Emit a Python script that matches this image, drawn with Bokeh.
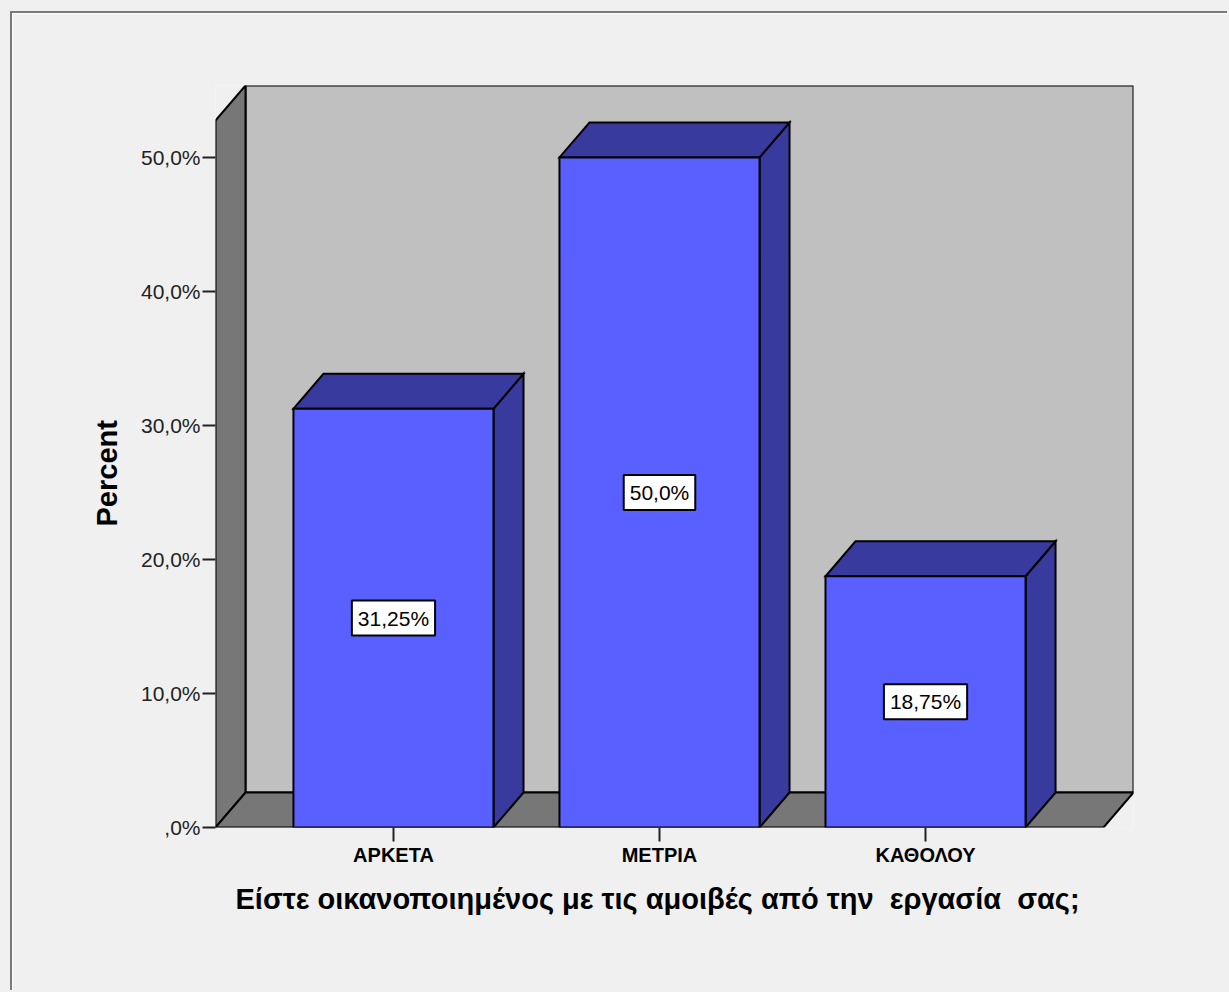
from bokeh.plotting import figure
from bokeh.models import Range1d, FixedTicker, ColumnDataSource, Title
from bokeh.core.properties import value
from bokeh.embed import file_html
from bokeh.resources import INLINE

# --- data -------------------------------------------------------------
categories = ["ΑΡΚΕΤΑ", "ΜΕΤΡΙΑ", "ΚΑΘΟΛΟΥ"]
percents = [31.25, 50.0, 18.75]
y_ticks = [0, 10, 20, 30, 40, 50]
y_tick_labels = [",0%", "10,0%", "20,0%", "30,0%", "40,0%", "50,0%"]
x_title = "Είστε οικανοποιημένος με τις αμοιβές από την  εργασία  σας;"
y_title = "Percent"

# --- 3D box geometry (data units) --------------------------------------
X_PAD = 0.669      # floor margin beyond first / last category centre
BAR_W = 0.752      # bar width in category units
WALL_TOP = 52.76   # height of the front edge of the side wall (percent)
DX = 0.1128        # depth offset along x (category units)
DY = 2.61          # depth offset along y (percent units)

FONT = "Liberation Sans"
BG = "#f0f0f0"
BAR_FRONT = "#5a60ff"
BAR_SHADE = "#383a9e"
WALL_BACK = "#c0c0c0"
WALL_SIDE = "#777777"

x0, x1 = -X_PAD, (len(categories) - 1) + X_PAD

p = figure(width=1217, height=979,
           x_range=Range1d(x0, x1 + DX), y_range=Range1d(0, WALL_TOP + DY),
           min_border_left=203, min_border_right=96,
           min_border_top=72, min_border_bottom=165,
           output_backend="svg", toolbar_location=None, tools="")
p.background_fill_color = BG
p.border_fill_color = BG
p.outline_line_color = None
p.grid.visible = False
# page frame: grey rule on the top and left, light fill around it
p.styles = {"margin-left": "10px", "margin-top": "11px",
            "border-left": "2px solid #7a7a7a",
            "border-top": "2px solid #7a7a7a",
            "box-shadow": f"0 0 0 14px {BG}"}

edge = dict(line_color="black", line_width=2, line_join="miter")

# back wall, side wall and floor
p.quad(left=x0 + DX, right=x1 + DX, bottom=DY, top=WALL_TOP + DY,
       fill_color=WALL_BACK, **edge)
p.patch([x0, x0, x0 + DX, x0 + DX], [0, WALL_TOP, WALL_TOP + DY, DY],
        fill_color=WALL_SIDE, **edge)
p.patch([x0, x1, x1 + DX, x0 + DX], [0, 0, DY, DY],
        fill_color=WALL_SIDE, **edge)

# bars: right side, top and front face
pos = list(range(len(categories)))
lefts = [c - BAR_W / 2 for c in pos]
rights = [c + BAR_W / 2 for c in pos]
side_xs = [[r, r + DX, r + DX, r] for r in rights]
side_ys = [[0, DY, v + DY, v] for v in percents]
top_xs = [[l, r, r + DX, l + DX] for l, r in zip(lefts, rights)]
top_ys = [[v, v, v + DY, v + DY] for v in percents]
p.patches(side_xs, side_ys, fill_color=BAR_SHADE, **edge)
p.patches(top_xs, top_ys, fill_color=BAR_SHADE, **edge)
p.quad(left=lefts, right=rights, bottom=0, top=percents,
       fill_color=BAR_FRONT, **edge)


def fmt(v):
    s = f"{v:.1f}" if float(v).is_integer() else f"{v:.2f}"
    return s.replace(".", ",") + "%"


src = ColumnDataSource(dict(x=pos, y=[v / 2 for v in percents],
                            text=[fmt(v) for v in percents]))
p.text(x="x", y="y", text="text", source=src,
       text_align="center", text_baseline="middle",
       text_font=value(FONT), text_font_size="21px", text_color="black",
       background_fill_color="white",
       border_line_color="black", border_line_width=2, padding=6)

# axes
ya = p.yaxis[0]
ya.ticker = FixedTicker(ticks=y_ticks)
ya.major_label_overrides = {t: s for t, s in zip(y_ticks, y_tick_labels)}
ya.axis_line_color = None
ya.major_tick_in = 0
ya.major_tick_out = 13
ya.major_tick_line_width = 2
ya.major_tick_line_color = "#222222"
ya.minor_tick_line_color = None
ya.major_label_standoff = 2
ya.major_label_text_font = FONT
ya.major_label_text_font_size = "21px"
ya.major_label_text_color = "#222222"

xa = p.xaxis[0]
xa.ticker = FixedTicker(ticks=pos)
xa.major_label_overrides = {c: s for c, s in zip(pos, categories)}
xa.axis_line_color = None
xa.major_tick_in = 0
xa.major_tick_out = 14
xa.major_tick_line_width = 2
xa.major_tick_line_color = "#222222"
xa.minor_tick_line_color = None
xa.major_label_standoff = 2
xa.major_label_text_font = FONT
xa.major_label_text_font_size = "20px"
xa.major_label_text_font_style = "bold"
xa.major_label_text_color = "black"

# axis titles; SVG text collapses runs of spaces, so keep the wide gaps
# with a no-break space
shown_x_title = x_title.replace("  ", " \u00a0")
p.add_layout(Title(text=shown_x_title, align="left", offset=20, standoff=25,
                   text_font=FONT, text_font_size="29px",
                   text_font_style="bold", text_color="black"), "below")
p.add_layout(Title(text=y_title, align="left", offset=301, standoff=29,
                   text_font=FONT, text_font_size="29px",
                   text_font_style="bold", text_color="black"), "left")

open("out.html", "w").write(file_html(p, INLINE))
